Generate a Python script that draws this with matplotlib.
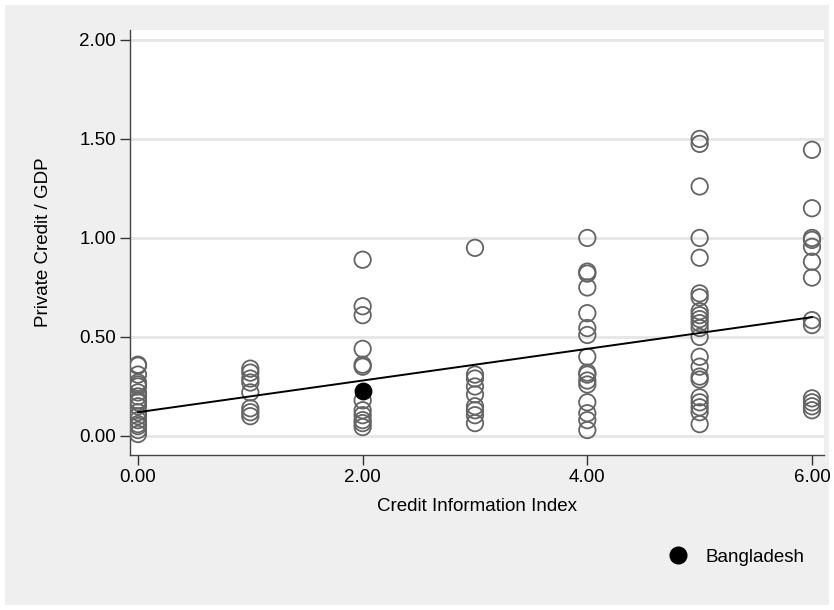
import numpy as np
import matplotlib
matplotlib.use('Agg')
import matplotlib.pyplot as plt
from matplotlib.patches import Rectangle

plt.rcParams['font.family'] = ['Liberation Sans', 'DejaVu Sans']

# credit information index per country and private credit / GDP
idx_0 = [0.36, 0.355, 0.31, 0.27, 0.26, 0.25, 0.22, 0.20, 0.18, 0.17, 0.15,
         0.12, 0.10, 0.08, 0.06, 0.05, 0.03, 0.01]
idx_1 = [0.34, 0.32, 0.29, 0.27, 0.22, 0.14, 0.12, 0.10]
idx_2 = [0.89, 0.655, 0.61, 0.44, 0.36, 0.35, 0.18, 0.13, 0.105, 0.08,
         0.065, 0.045]
idx_3 = [0.95, 0.31, 0.29, 0.25, 0.21, 0.15, 0.13, 0.105, 0.065]
idx_4 = [1.0, 0.83, 0.82, 0.75, 0.62, 0.545, 0.51, 0.40, 0.32, 0.31, 0.28,
         0.26, 0.17, 0.115, 0.08, 0.03]
idx_5 = [1.50, 1.475, 1.26, 1.0, 0.90, 0.72, 0.70, 0.63, 0.61, 0.59, 0.57,
         0.545, 0.50, 0.40, 0.35, 0.30, 0.285, 0.195, 0.17, 0.145, 0.12,
         0.06]
idx_6 = [1.445, 1.15, 1.0, 0.99, 0.955, 0.88, 0.80, 0.585, 0.56, 0.19,
         0.17, 0.15, 0.13]
groups = [idx_0, idx_1, idx_2, idx_3, idx_4, idx_5, idx_6]

bangladesh_x = 2
bangladesh_y = 0.225

# fitted line
fit_x = [0, 6]
fit_y = [0.12, 0.60]

xticks = [0, 2, 4, 6]
yticks = [0, 0.5, 1.0, 1.5, 2.0]

fig = plt.figure(figsize=(8.34, 6.10), dpi=100)
fig.patch.set_facecolor('white')
fig.patches.append(Rectangle((5 / 834, 5 / 610), 824 / 834, 600 / 610,
                             transform=fig.transFigure, facecolor='#efefef',
                             edgecolor='none', zorder=-10))

ax = fig.add_axes([130 / 834, 155 / 610, 694 / 834, 425 / 610])
ax.set_facecolor('white')

for i, vals in enumerate(groups):
    ax.scatter([i] * len(vals), vals, s=140, facecolors='none',
               edgecolors='#646464', linewidths=1.3, zorder=3)

ax.scatter([bangladesh_x], [bangladesh_y], s=140, color='black', zorder=4)
ax.plot(fit_x, fit_y, color='black', lw=1.4, zorder=5)

ax.set_xlim(-0.071, 6.107)
ax.set_ylim(-0.096, 2.05)
ax.set_xticks(xticks)
ax.set_xticklabels(['%.2f' % t for t in xticks], fontsize=13.5)
ax.set_yticks(yticks)
ax.set_yticklabels(['%.2f' % t for t in yticks], fontsize=13.5)
ax.yaxis.grid(True, color='#e6e6e6', lw=2)
ax.set_axisbelow(True)
ax.tick_params(direction='out', length=7, width=1, color='#333333', pad=3)

for s in ['top', 'right']:
    ax.spines[s].set_visible(False)
for s in ['left', 'bottom']:
    ax.spines[s].set_color('#444444')
    ax.spines[s].set_linewidth(1)

ax.set_xlabel('Credit Information Index', fontsize=13.5, labelpad=9)
ax.set_ylabel('Private Credit / GDP', fontsize=13.5, labelpad=20)

fig.legend(handles=[plt.Line2D([], [], marker='o', ls='none', color='black',
                               markersize=12)],
           labels=['Bangladesh'], loc='center', bbox_to_anchor=(732 / 834, 1 - 557 / 610),
           frameon=False, fontsize=13.5, handletextpad=0.5)

fig.savefig('out.png', dpi=100)
